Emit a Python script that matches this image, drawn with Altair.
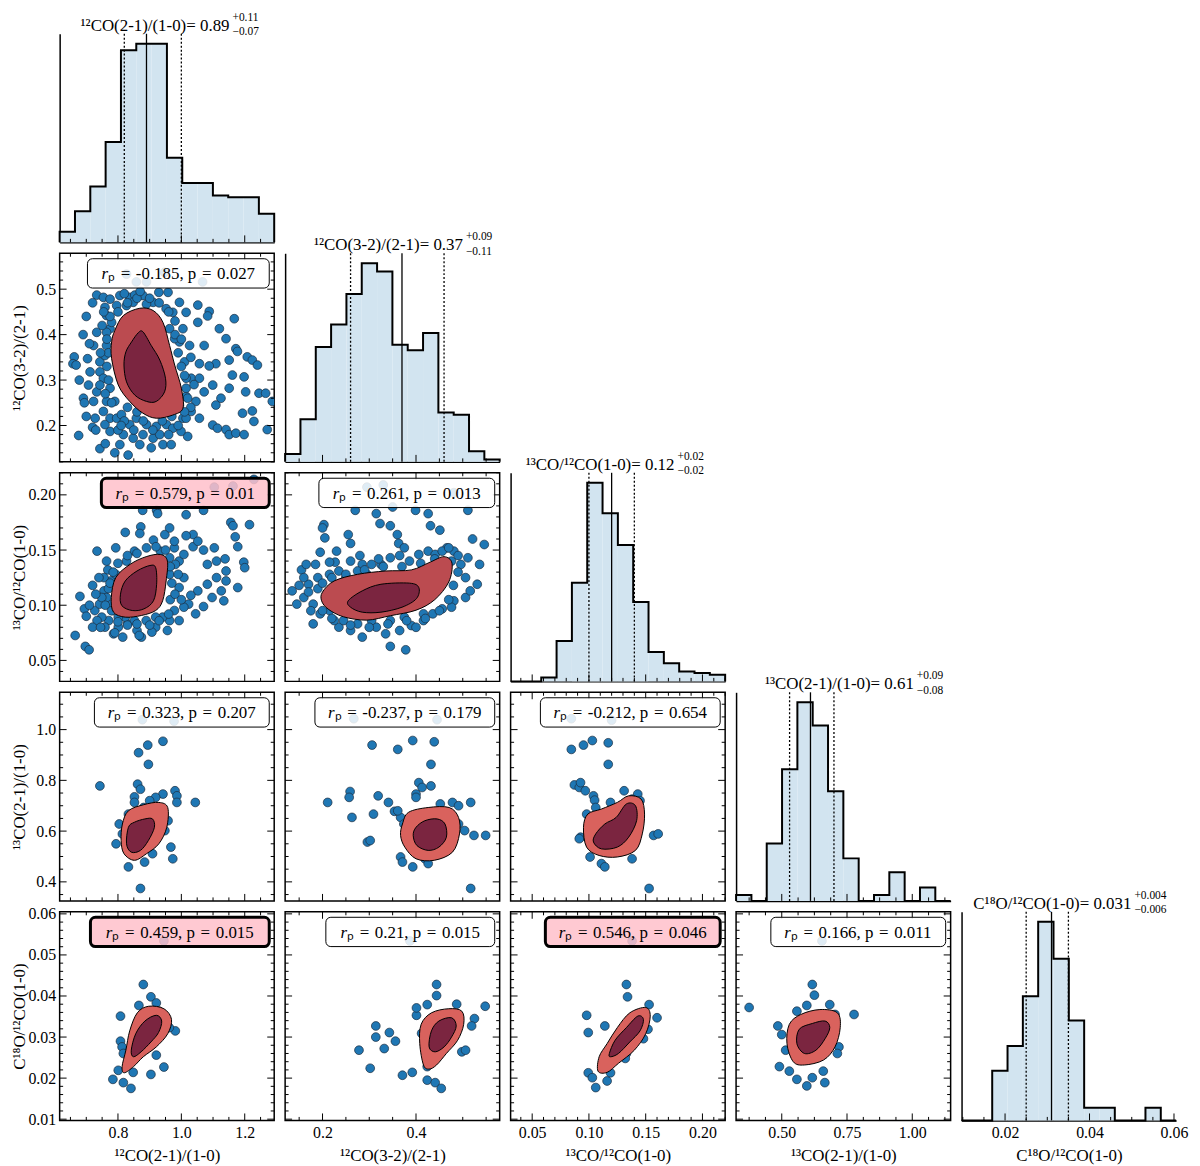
import altair as alt
import numpy as np
import pandas as pd

FONT = "Liberation Serif"
W, H = 216, 210
GAP = 11

# ---------------- data ----------------
VAR_LABELS = ["¹²CO(2-1)/(1-0)", "¹²CO(3-2)/(2-1)", "¹³CO/¹²CO(1-0)", "¹³CO(2-1)/(1-0)", "C¹⁸O/¹²CO(1-0)"]
DOMAINS = [[0.616, 1.293], [0.12, 0.579], [0.031, 0.22], [0.325, 1.147], [0.0097, 0.0605]]

X_MAJOR = [[0.8, 1.0, 1.2], [0.2, 0.4], [0.05, 0.10, 0.15, 0.20], [0.50, 0.75, 1.00], [0.02, 0.04, 0.06]]
X_MINOR_STEP = [0.05, 0.05, 0.01, 0.0625, 0.005]
Y_MAJOR = [[], [0.2, 0.3, 0.4, 0.5], [0.05, 0.10, 0.15, 0.20], [0.4, 0.6, 0.8, 1.0], [0.01, 0.02, 0.03, 0.04, 0.05, 0.06]]
Y_MINOR_STEP = [0.05, 0.02, 0.01, 0.05, 0.002]
X_FMT = [".1f", ".1f", ".2f", ".2f", ".2f"]
Y_FMT = [".1f", ".1f", ".2f", ".1f", ".2f"]

HIST_A = [32, 94, 169, 304, 582, 602, 602, 256, 180, 180, 142, 137, 137, 87]
HIST_B = [24, 129, 347, 415, 507, 600, 575, 354, 337, 389, 149, 142, 32, 7]
HIST_C = [0, 0, 12, 122, 298, 600, 508, 412, 240, 89, 55, 30, 25, 20]
HIST_D = [18, 0, 173, 396, 598, 528, 330, 128, 0, 18, 86, 0, 40, 0]
HIST_E = [0, 0, 150, 225, 375, 600, 488, 302, 38, 38, 0, 0, 38, 0]
HISTS = [HIST_A, HIST_B, HIST_C, HIST_D, HIST_E]

Q16 = [0.82, 0.26, 0.10, 0.53, 0.025]
Q50 = [0.89, 0.37, 0.12, 0.61, 0.031]
Q84 = [1.00, 0.46, 0.14, 0.70, 0.035]
TITLE_MAIN = ["0.89", "0.37", "0.12", "0.61", "0.031"]
TITLE_PLUS = ["+0.11", "+0.09", "+0.02", "+0.09", "+0.004"]
TITLE_MINUS = ["−0.07", "−0.11", "−0.02", "−0.08", "−0.006"]

R_P = {(1, 0): "-0.185", (2, 0): "0.579", (2, 1): "0.261", (3, 0): "0.323", (3, 1): "-0.237",
       (3, 2): "-0.212", (4, 0): "0.459", (4, 1): "0.21", (4, 2): "0.546", (4, 3): "0.166"}
P_VAL = {(1, 0): "0.027", (2, 0): "0.01", (2, 1): "0.013", (3, 0): "0.207", (3, 1): "0.179",
         (3, 2): "0.654", (4, 0): "0.015", (4, 1): "0.015", (4, 2): "0.046", (4, 3): "0.011"}
HIGHLIGHT = [(2, 0), (4, 0), (4, 2)]

PTS_1_0 = [(0.676,0.178),(0.662,0.351),(0.658,0.336),(0.668,0.333),(0.678,0.300),(0.704,0.347),(0.707,0.289),
 (0.691,0.260),(0.694,0.250),(0.728,0.216),(0.720,0.196),(0.743,0.149),(0.733,0.487),(0.754,0.482),(0.743,0.340),
 (0.743,0.318),(0.733,0.274),(0.723,0.253),(0.764,0.442),(0.775,0.413),(0.764,0.376),(0.759,0.354),(0.764,0.253),
 (0.775,0.216),(0.775,0.187),(0.796,0.216),(0.806,0.158),(0.832,0.135),(0.817,0.180),(0.806,0.486),(0.837,0.482),
 (0.853,0.487),(0.879,0.486),(0.929,0.493),(0.958,0.493),(0.796,0.464),(0.775,0.478),(0.879,0.180),(0.911,0.172),
 (0.942,0.158),(0.968,0.158),(1.020,0.176),(1.005,0.216),(1.057,0.216),(1.099,0.201),(1.114,0.194),(1.141,0.191),
 (1.151,0.180),(1.172,0.183),(1.198,0.180),(1.271,0.191),(1.229,0.209),(1.224,0.232),(1.193,0.227),(1.245,0.271),
 (1.266,0.271),(1.287,0.253),(1.052,0.465),(1.088,0.451),(1.083,0.441),(1.052,0.427),(1.167,0.435),(1.141,0.391),
 (1.172,0.369),(1.177,0.363),(1.208,0.351),(1.224,0.344),(1.109,0.336),(1.088,0.331),(1.151,0.344),(1.005,0.413),
 (1.026,0.376),(1.010,0.340),(1.031,0.304),(1.057,0.304),(1.072,0.274),(1.099,0.289),(1.125,0.260),(1.151,0.282),
 (1.109,0.245),(1.046,0.253),(1.015,0.264),(1.031,0.231),(0.994,0.471),(0.973,0.449),(1.015,0.449),(0.994,0.384),
 (1.161,0.311),(1.198,0.307),(1.240,0.333),(1.203,0.274),(1.072,0.376),(1.120,0.413),(1.015,0.304),(1.057,0.336),
 (0.780,0.427),(0.764,0.405),(0.754,0.304),(0.775,0.282),(0.790,0.253),(0.811,0.224),(0.837,0.202),(0.858,0.216),
 (0.890,0.202),(0.921,0.198),(0.953,0.202),(0.973,0.194),(0.848,0.172),(0.932,0.180),(0.999,0.187),(1.015,0.216),
 (0.994,0.245),(1.015,0.282),(0.979,0.391),(0.963,0.413),(0.952,0.457),(0.911,0.471),(0.848,0.471),(0.827,0.464),
 (0.890,0.467),(0.759,0.460),(0.733,0.405),(0.723,0.376),(0.743,0.289),(0.712,0.318),(0.754,0.231),(0.759,0.202),
 (0.869,0.158),(0.905,0.151),
 (0.770,0.300),(0.765,0.330),(0.770,0.360),(0.765,0.390),(0.775,0.440),(0.760,0.270),(0.780,0.250),(0.745,0.360),
 (0.750,0.420),(0.755,0.450),(0.800,0.450),(0.830,0.470),(0.860,0.480),(0.900,0.480),(0.930,0.470),(0.960,0.450),
 (0.980,0.430),(0.820,0.490),(0.870,0.495),(0.990,0.360),(1.000,0.330),(1.010,0.310),(1.020,0.260),(1.030,0.240),
 (0.980,0.400),(1.000,0.390),(1.030,0.350),(1.040,0.290),(0.820,0.210),(0.850,0.190),(0.880,0.210),(0.910,0.190),
 (0.940,0.210),(0.960,0.180),(0.990,0.200),(0.800,0.190),(0.860,0.230),(0.830,0.240),(1.010,0.230),(0.970,0.220),
 (0.700,0.440),(0.720,0.470),(0.690,0.400),(0.710,0.380),(0.700,0.220),(0.730,0.190),(0.760,0.160),(0.790,0.140),
 (0.810,0.200),
 (0.827,0.533),(0.858,0.516),(0.890,0.516),(0.947,0.537),(1.067,0.516)]

PTS_2_0 = [(0.665,0.0726),(0.697,0.0627),(0.709,0.0596),(0.680,0.108),(0.694,0.0967),(0.734,0.149),(0.764,0.140),
 (0.768,0.132),(0.827,0.140),(0.823,0.166),(0.872,0.171),(0.878,0.186),(0.922,0.186),(0.925,0.183),(0.869,0.165),
 (0.912,0.159),(1.015,0.182),(1.070,0.186),(1.037,0.164),(1.070,0.150),(1.037,0.153),(1.082,0.137),(1.111,0.140),
 (1.138,0.142),(1.156,0.175),(1.163,0.172),(1.215,0.173),(1.170,0.162),(1.178,0.153),(1.197,0.139),(1.141,0.131),
 (1.200,0.134),(0.978,0.152),(0.993,0.140),(0.963,0.128),(1.008,0.125),(1.052,0.113),(1.030,0.109),(1.070,0.0988),
 (1.045,0.0922),(0.993,0.0861),(0.963,0.0861),(0.956,0.0771),(0.919,0.0801),(0.874,0.0711),(0.860,0.0771),
 (0.830,0.0831),(0.801,0.0801),(0.771,0.0861),(0.749,0.0892),(0.727,0.0952),(0.742,0.101),(0.756,0.113),
 (0.778,0.122),(0.756,0.125),(0.793,0.128),(0.963,0.143),(0.934,0.149),(0.948,0.134),(0.993,0.116),(1.023,0.101),
 (1.008,0.0982),(0.978,0.0952),(0.941,0.0892),(0.919,0.0892),(0.889,0.0861),(0.852,0.0861),(0.823,0.0892),
 (0.786,0.0952),(0.771,0.101),(0.801,0.0892),(0.764,0.107),(0.749,0.107),(1.082,0.119),(1.111,0.125),(1.141,0.122),
 (1.126,0.113),(1.178,0.116),(1.134,0.104),(1.097,0.107),(1.104,0.152),(1.052,0.158),(1.015,0.163),(0.978,0.158),
 (0.948,0.164),(0.963,0.170),(0.852,0.149),(0.793,0.152),(0.808,0.119),(1.008,0.146),(0.981,0.137),(0.734,0.0861),
 (0.720,0.0801),(0.759,0.0801),(0.786,0.0741),(0.815,0.0711),(0.867,0.0726),(0.907,0.0756),
 (0.770,0.115),(0.760,0.100),(0.780,0.095),(0.800,0.085),(0.830,0.082),(0.860,0.083),(0.900,0.082),(0.930,0.086),
 (0.960,0.092),(0.965,0.105),(0.970,0.120),(0.965,0.135),(0.950,0.150),(0.920,0.153),(0.890,0.152),(0.860,0.147),
 (0.830,0.145),(0.800,0.138),(0.785,0.130),(0.775,0.120),(0.980,0.110),(1.000,0.105),(0.990,0.128),(0.700,0.090),
 (0.710,0.100),(0.730,0.110),(0.720,0.118),(0.740,0.125),(0.745,0.080),(0.790,0.075),
 (1.104,0.207),(1.163,0.208),(1.229,0.214)]

PTS_2_1 = [(0.135,0.113),(0.155,0.132),(0.185,0.137),(0.195,0.148),(0.203,0.173),(0.200,0.170),(0.205,0.161),
 (0.230,0.149),(0.227,0.139),(0.255,0.164),(0.260,0.156),(0.270,0.186),(0.280,0.145),(0.285,0.137),(0.295,0.128),
 (0.315,0.183),(0.323,0.174),(0.345,0.172),(0.350,0.189),(0.360,0.164),(0.363,0.156),(0.375,0.152),(0.399,0.186),
 (0.426,0.183),(0.431,0.172),(0.451,0.168),(0.466,0.152),(0.481,0.149),(0.511,0.186),(0.521,0.160),(0.546,0.155),
 (0.531,0.119),(0.506,0.125),(0.496,0.137),(0.481,0.104),(0.456,0.0967),(0.436,0.0922),(0.416,0.0861),(0.390,0.0816),
 (0.345,0.0627),(0.378,0.0596),(0.365,0.0771),(0.335,0.0741),(0.315,0.0801),(0.285,0.0711),(0.260,0.0771),
 (0.235,0.0801),(0.225,0.0861),(0.180,0.0831),(0.195,0.0922),(0.180,0.101),(0.160,0.107),(0.145,0.101),(0.170,0.119),
 (0.190,0.125),(0.215,0.128),(0.235,0.131),(0.250,0.125),(0.275,0.131),(0.305,0.137),(0.325,0.137),(0.345,0.143),
 (0.365,0.145),(0.386,0.140),(0.406,0.146),(0.426,0.149),(0.441,0.146),(0.456,0.149),(0.215,0.139),(0.165,0.137),
 (0.210,0.104),(0.215,0.0952),(0.245,0.0861),(0.275,0.0831),(0.305,0.0861),(0.345,0.0861),(0.375,0.0892),
 (0.416,0.0922),(0.476,0.0982),(0.506,0.107),(0.516,0.113),(0.511,0.143),(0.476,0.140),(0.536,0.137),
 (0.190,0.115),(0.200,0.095),(0.220,0.088),(0.260,0.082),(0.300,0.080),(0.340,0.083),(0.380,0.086),(0.420,0.088),
 (0.450,0.095),(0.470,0.105),(0.480,0.118),(0.490,0.130),(0.490,0.145),(0.470,0.152),(0.440,0.142),(0.410,0.138),
 (0.370,0.135),(0.330,0.135),(0.290,0.132),(0.250,0.128),(0.220,0.125),(0.200,0.120),(0.170,0.112),(0.160,0.125),
 (0.230,0.115),(0.150,0.118),(0.175,0.095),(0.260,0.140),(0.320,0.142),(0.400,0.080),
 (0.330,0.209),(0.481,0.202),(0.295,0.207)]

PTS_3_0 = [(0.743,0.778),(0.865,0.909),(0.894,0.939),(0.942,0.954),(0.896,0.863),(0.862,0.785),(0.871,0.765),
 (0.852,0.735),(0.942,0.746),(0.919,0.733),(0.980,0.759),(0.986,0.739),(0.986,0.713),(1.044,0.713),(0.929,0.687),
 (0.958,0.641),(0.948,0.602),(0.967,0.537),(0.973,0.491),(0.909,0.511),(0.884,0.478),(0.833,0.459),(0.871,0.374),
 (0.794,0.550),(0.804,0.628),(0.814,0.589),(0.833,0.667),(0.881,0.693),(0.900,0.720),(0.852,0.713),
 (0.877,1.039),(0.977,1.033)]

PTS_3_1 = [(0.211,0.713),(0.259,0.756),(0.257,0.733),(0.263,0.654),(0.296,0.557),(0.302,0.563),(0.309,0.667),
 (0.306,0.939),(0.361,0.922),(0.393,0.957),(0.439,0.952),(0.319,0.739),(0.341,0.713),(0.354,0.678),(0.367,0.654),
 (0.374,0.628),(0.406,0.791),(0.413,0.772),(0.400,0.746),(0.432,0.778),(0.432,0.863),(0.452,0.707),(0.478,0.713),
 (0.491,0.700),(0.517,0.713),(0.400,0.733),(0.361,0.680),(0.367,0.498),(0.371,0.478),(0.393,0.459),(0.419,0.491),
 (0.426,0.472),(0.504,0.602),(0.524,0.583),(0.549,0.583),(0.517,0.374),(0.491,0.628),
 (0.267,1.043),(0.445,1.039)]

PTS_3_2 = [(0.0845,0.922),(0.0952,0.939),(0.103,0.957),(0.117,0.948),(0.117,0.863),(0.0872,0.782),(0.0915,0.772),
 (0.0926,0.791),(0.0968,0.759),(0.104,0.739),(0.105,0.722),(0.131,0.759),(0.143,0.746),(0.145,0.720),(0.0926,0.576),
 (0.0915,0.570),(0.101,0.498),(0.111,0.472),(0.114,0.459),(0.138,0.491),(0.157,0.583),(0.161,0.589),(0.153,0.374),
 (0.0980,0.667),(0.106,0.693),(0.119,0.713),(0.138,0.726),
 (0.0845,1.043),(0.120,1.037)]

PTS_4_0 = [(0.880,0.0428),(0.904,0.0398),(0.866,0.0377),(0.921,0.0383),(0.929,0.0363),(0.808,0.0351),(0.808,0.0290),
 (0.813,0.0276),(0.817,0.0260),(0.832,0.0235),(0.801,0.0219),(0.784,0.0197),(0.817,0.0189),(0.841,0.0175),
 (0.848,0.0214),(0.904,0.0209),(0.945,0.0227),(0.981,0.0315),(0.962,0.0323),(0.921,0.0256),(0.909,0.0339),
 (0.945,0.0534)]

PTS_4_1 = [(0.278,0.0268),(0.302,0.0224),(0.314,0.0327),(0.314,0.0300),(0.343,0.0311),(0.356,0.0290),(0.332,0.0272),
 (0.371,0.0207),(0.392,0.0214),(0.401,0.0353),(0.412,0.0309),(0.444,0.0428),(0.444,0.0401),(0.487,0.0380),
 (0.525,0.0345),(0.519,0.0327),(0.548,0.0375),(0.498,0.0264),(0.506,0.0268),(0.424,0.0195),(0.441,0.0189),
 (0.454,0.0175),(0.424,0.0228),(0.401,0.0371),(0.424,0.0379),
 (0.387,0.0534)]

PTS_4_2 = [(0.098,0.0353),(0.0994,0.0311),(0.0994,0.0213),(0.103,0.0201),(0.106,0.0177),(0.116,0.0193),(0.119,0.0213),
 (0.114,0.0327),(0.133,0.0428),(0.134,0.0398),(0.153,0.0379),(0.152,0.0319),(0.160,0.0347),(0.148,0.0296),
 (0.133,0.0260),(0.132,0.0248),(0.119,0.0268),
 (0.138,0.0534)]

PTS_4_3 = [(0.375,0.0372),(0.485,0.0327),(0.500,0.0306),(0.515,0.0268),(0.491,0.0228),(0.529,0.0217),(0.558,0.0197),
 (0.596,0.0181),(0.617,0.0201),(0.659,0.0217),(0.665,0.0189),(0.596,0.0377),(0.617,0.0428),(0.625,0.0402),
 (0.684,0.0379),(0.704,0.0355),(0.777,0.0355),(0.719,0.0276),(0.713,0.0260),(0.558,0.0363),
 (0.654,0.0534)]

PTS = {(1, 0): PTS_1_0, (2, 0): PTS_2_0, (2, 1): PTS_2_1, (3, 0): PTS_3_0, (3, 1): PTS_3_1,
       (3, 2): PTS_3_2, (4, 0): PTS_4_0, (4, 1): PTS_4_1, (4, 2): PTS_4_2, (4, 3): PTS_4_3}

# density contours (outer and inner levels), vertices
CONT_1_0 = ([(0.790,0.409),(0.817,0.442),(0.869,0.458),(0.911,0.453),(0.942,0.427),(0.963,0.376),(0.979,0.333),
             (1.000,0.282),(1.005,0.238),(0.973,0.223),(0.921,0.216),(0.879,0.227),(0.837,0.253),(0.801,0.289),
             (0.780,0.347),(0.780,0.384)],
            [(0.825,0.362),(0.843,0.384),(0.864,0.404),(0.879,0.406),(0.905,0.376),(0.932,0.344),(0.950,0.304),
             (0.947,0.274),(0.921,0.253),(0.890,0.253),(0.853,0.267),(0.827,0.296),(0.819,0.333)])
CONT_2_0 = ([(0.779,0.107),(0.793,0.125),(0.838,0.137),(0.889,0.144),(0.934,0.146),(0.956,0.140),(0.952,0.122),
             (0.941,0.104),(0.919,0.0952),(0.874,0.0907),(0.823,0.0892),(0.786,0.0937)],
            [(0.808,0.110),(0.823,0.122),(0.860,0.131),(0.901,0.136),(0.919,0.134),(0.922,0.119),(0.912,0.104),
             (0.882,0.0967),(0.845,0.0952),(0.812,0.0997)])
CONT_2_1 = ([(0.200,0.112),(0.225,0.122),(0.275,0.128),(0.335,0.131),(0.390,0.132),(0.430,0.139),(0.460,0.144),
             (0.477,0.138),(0.470,0.121),(0.440,0.105),(0.400,0.0955),(0.345,0.0905),(0.295,0.0865),(0.245,0.0895),
             (0.212,0.0965),(0.198,0.104)],
            [(0.255,0.104),(0.285,0.113),(0.325,0.119),(0.386,0.120),(0.406,0.116),(0.401,0.106),(0.370,0.0982),
             (0.325,0.0937),(0.285,0.0937),(0.260,0.0982)])
CONT_3_0 = ([(0.814,0.628),(0.833,0.680),(0.881,0.704),(0.929,0.713),(0.957,0.693),(0.954,0.615),(0.929,0.550),
             (0.890,0.511),(0.852,0.485),(0.819,0.511),(0.810,0.563)],
            [(0.833,0.615),(0.852,0.635),(0.885,0.648),(0.909,0.648),(0.915,0.615),(0.896,0.563),(0.871,0.524),
             (0.842,0.517),(0.827,0.550)])
CONT_3_1 = ([(0.371,0.628),(0.384,0.674),(0.426,0.693),(0.471,0.693),(0.491,0.654),(0.493,0.589),(0.478,0.517),
             (0.439,0.485),(0.400,0.491),(0.376,0.537),(0.367,0.583)],
            [(0.400,0.615),(0.419,0.641),(0.445,0.648),(0.462,0.628),(0.465,0.576),(0.449,0.537),(0.426,0.524),
             (0.402,0.543),(0.394,0.583)])
CONT_3_2 = ([(0.0952,0.615),(0.0990,0.667),(0.111,0.687),(0.125,0.713),(0.135,0.739),(0.146,0.726),(0.149,0.667),
             (0.147,0.589),(0.141,0.524),(0.125,0.498),(0.109,0.504),(0.0979,0.537)],
            [(0.106,0.589),(0.114,0.628),(0.124,0.654),(0.133,0.707),(0.141,0.700),(0.142,0.641),(0.135,0.576),
             (0.125,0.537),(0.111,0.530),(0.104,0.557)])
CONT_4_0 = ([(0.813,0.0228),(0.825,0.0268),(0.837,0.0315),(0.861,0.0359),(0.897,0.0375),(0.945,0.0369),
             (0.969,0.0343),(0.957,0.0308),(0.921,0.0276),(0.880,0.0252),(0.849,0.0228),(0.820,0.0213)],
            [(0.842,0.0268),(0.856,0.0308),(0.885,0.0339),(0.921,0.0353),(0.938,0.0339),(0.928,0.0311),
             (0.904,0.0288),(0.873,0.0264),(0.849,0.0252)])
CONT_4_1 = ([(0.416,0.0232),(0.408,0.0284),(0.411,0.0331),(0.433,0.0359),(0.470,0.0369),(0.498,0.0363),
             (0.502,0.0331),(0.489,0.0292),(0.465,0.0260),(0.444,0.0232),(0.428,0.0222)],
            [(0.428,0.0276),(0.433,0.0315),(0.449,0.0339),(0.476,0.0347),(0.486,0.0327),(0.476,0.0300),
             (0.460,0.0276),(0.441,0.0264)])
CONT_4_2 = ([(0.108,0.0217),(0.109,0.0252),(0.116,0.0284),(0.125,0.0323),(0.136,0.0359),(0.150,0.0372),
             (0.154,0.0351),(0.150,0.0308),(0.140,0.0268),(0.126,0.0236),(0.116,0.0214)],
            [(0.118,0.0260),(0.123,0.0292),(0.133,0.0323),(0.143,0.0351),(0.148,0.0343),(0.145,0.0315),
             (0.136,0.0288),(0.126,0.0260),(0.119,0.0252)])
CONT_4_3 = ([(0.520,0.0284),(0.529,0.0331),(0.573,0.0355),(0.646,0.0367),(0.713,0.0359),(0.724,0.0323),
             (0.704,0.0276),(0.660,0.0244),(0.587,0.0232),(0.544,0.0240)],
            [(0.558,0.0284),(0.567,0.0319),(0.617,0.0333),(0.666,0.0339),(0.684,0.0323),(0.666,0.0296),
             (0.631,0.0268),(0.587,0.0260)])
CONTS = {(1, 0): CONT_1_0, (2, 0): CONT_2_0, (2, 1): CONT_2_1, (3, 0): CONT_3_0, (3, 1): CONT_3_1,
         (3, 2): CONT_3_2, (4, 0): CONT_4_0, (4, 1): CONT_4_1, (4, 2): CONT_4_2, (4, 3): CONT_4_3}

# ---------------- styling / layout ----------------
PT_COLOR = "#1f77b4"
HFILL = "#d2e4f0"
OUTER_FILL = {1: "#bb4b50", 2: "#bb4b50", 3: "#d9625d", 4: "#d9625d"}
INNER_FILL = "#7b2540"
TITLE_END = [171, 179, 165, 179, 171]
BOX_W = {(1, 0): 183, (2, 0): 169, (2, 1): 177, (3, 0): 176, (3, 1): 181, (3, 2): 181,
         (4, 0): 180, (4, 1): 170, (4, 2): 176, (4, 3): 176}
DUMMY = pd.DataFrame({"a": [0]})
SP = "\u2004"
CW = {".": 0.25, ",": 0.25, " ": 0.25, SP: 0.333, "=": 0.564, "-": 0.333, "p": 0.5, "ₚ": 0.42, "r": 0.389}


def text_w(s, fs):
    return sum(CW.get(ch, 0.5) for ch in s) * fs


def sc(i):
    return alt.Scale(domain=DOMAINS[i], nice=False, zero=False)


def minor_ticks(lo, hi, step, majors):
    start = np.ceil(lo / step - 1e-9) * step
    vals = np.arange(start, hi + 1e-12, step)
    return [round(float(v), 6) for v in vals if all(abs(v - m) > step * 0.2 for m in majors)]


AXIS_TXT = dict(labelFont=FONT, labelFontSize=16, labelColor="black", titleFont=FONT, titleFontSize=17,
                titleFontWeight="normal", titleColor="black", grid=False, ticks=False)


def x_axis(c, labels, spine):
    kw = dict(AXIS_TXT)
    kw.update(domain=spine)
    if spine:
        kw.update(domainColor="black", domainWidth=1.5)
    if labels:
        kw.update(values=X_MAJOR[c], format=X_FMT[c], labels=True, labelPadding=4, labelFlush=False,
                  title=VAR_LABELS[c], titleY=40, titleBaseline="alphabetic")
    else:
        kw.update(labels=False, title=None)
    return alt.Axis(**kw)


def y_axis_scatter(r):
    kw = dict(AXIS_TXT)
    kw.update(domain=False, values=Y_MAJOR[r], format=Y_FMT[r], labels=True, labelPadding=4, labelFlush=False,
              title=VAR_LABELS[r], titleX=-35, titleY=H / 2, titleAngle=270, titleAlign="center",
              titleBaseline="alphabetic")
    return alt.Axis(**kw)


def tick_rules(vals, chan, enc_fn, side, length):
    df = pd.DataFrame({"v": vals})
    if chan == "x":
        enc = dict(x=enc_fn("v"))
        if side == "bottom":
            enc.update(y=alt.value(H), y2=alt.value(H - length))
        else:
            enc.update(y=alt.value(0), y2=alt.value(length))
    else:
        enc = dict(y=enc_fn("v"))
        if side == "left":
            enc.update(x=alt.value(0), x2=alt.value(length))
        else:
            enc.update(x=alt.value(W), x2=alt.value(W - length))
    return alt.Chart(df).mark_rule(color="black", strokeWidth=1).encode(**enc)


def scatter_panel(r, c):
    xa = x_axis(c, True, False) if r == 4 else None
    ya = y_axis_scatter(r) if c == 0 else None

    def X(f):
        return alt.X(f"{f}:Q", scale=sc(c), axis=xa)

    def Y(f):
        return alt.Y(f"{f}:Q", scale=sc(r), axis=ya)

    layers = []
    pts = pd.DataFrame(PTS[(r, c)], columns=["x", "y"])
    layers.append(alt.Chart(pts).mark_circle(size=78, color=PT_COLOR, opacity=1, stroke="#1b2b3d",
                                             strokeWidth=0.7, clip=True).encode(x=X("x"), y=Y("y")))
    outer, inner = CONTS[(r, c)]
    for poly, fill in ((outer, OUTER_FILL[r]), (inner, INNER_FILL)):
        dfp = pd.DataFrame(poly, columns=["x", "y"])
        dfp["i"] = range(len(dfp))
        layers.append(alt.Chart(dfp).mark_line(interpolate="cardinal-closed", fill=fill, fillOpacity=1,
                                               stroke="black", strokeWidth=1, clip=True)
                      .encode(x=X("x"), y=Y("y"), order="i:Q"))
    xmaj = X_MAJOR[c]
    xmin = minor_ticks(DOMAINS[c][0], DOMAINS[c][1], X_MINOR_STEP[c], xmaj)
    ymaj = Y_MAJOR[r]
    ymin = minor_ticks(DOMAINS[r][0], DOMAINS[r][1], Y_MINOR_STEP[r], ymaj)
    for side in ("bottom", "top"):
        layers.append(tick_rules(xmaj, "x", X, side, 7))
        layers.append(tick_rules(xmin, "x", X, side, 3.5))
    for side in ("left", "right"):
        layers.append(tick_rules(ymaj, "y", Y, side, 7))
        layers.append(tick_rules(ymin, "y", Y, side, 3.5))

    hl = (r, c) in HIGHLIGHT
    bw = BOX_W[(r, c)]
    layers.append(alt.Chart(DUMMY).mark_rect(cornerRadius=5, fill="#ffc0cb" if hl else "white", fillOpacity=0.86,
                                             stroke="black", strokeWidth=3 if hl else 1)
                  .encode(x=alt.value(W - 5 - bw), x2=alt.value(W - 5), y=alt.value(5.5), y2=alt.value(35)))
    fs = 17
    rest = "ₚ" + SP + "=" + SP + R_P[(r, c)] + ", p" + SP + "=" + SP + P_VAL[(r, c)]
    total = text_w("r", fs) + text_w(rest, fs)
    x0 = W - 5 - bw / 2 - total / 2
    layers.append(alt.Chart(DUMMY).mark_text(text="r", font=FONT, fontSize=fs, fontStyle="italic", align="left",
                                             baseline="alphabetic", color="black")
                  .encode(x=alt.value(x0), y=alt.value(26)))
    layers.append(alt.Chart(DUMMY).mark_text(text=rest, font=FONT, fontSize=fs, align="left",
                                             baseline="alphabetic", color="black")
                  .encode(x=alt.value(x0 + text_w("r", fs)), y=alt.value(26)))
    return alt.layer(*layers).properties(width=W, height=H)


def hist_panel(i):
    xa = x_axis(i, i == 4, True)
    cnts = HISTS[i]
    ymax = max(cnts) * 1.05
    ya = alt.Axis(domain=True, domainColor="black", domainWidth=1.5, labels=False, ticks=False, grid=False,
                  title=None)

    def X(f):
        return alt.X(f"{f}:Q", scale=sc(i), axis=xa)

    def Y(f):
        return alt.Y(f"{f}:Q", scale=alt.Scale(domain=[0, ymax], nice=False, zero=True), axis=ya)

    lo, hi = DOMAINS[i]
    edges = np.linspace(lo, hi, len(cnts) + 1)
    bars = pd.DataFrame({"x0": edges[:-1], "x1": edges[1:], "cnt": cnts, "zero": 0})
    ox, oy = [edges[0]], [0]
    for k, cval in enumerate(cnts):
        ox += [edges[k], edges[k + 1]]
        oy += [cval, cval]
    ox.append(edges[-1])
    oy.append(0)
    outline = pd.DataFrame({"x": ox, "cnt": oy, "i": range(len(ox))})

    layers = [
        alt.Chart(bars).mark_rect(color=HFILL, strokeWidth=0).encode(x=X("x0"), x2="x1", y=Y("cnt"), y2="zero"),
        alt.Chart(outline).mark_line(color="black", strokeWidth=2, strokeJoin="miter")
        .encode(x=X("x"), y=Y("cnt"), order="i:Q"),
        alt.Chart(pd.DataFrame({"q": [Q16[i], Q84[i]]})).mark_rule(color="black", strokeWidth=1.3, strokeDash=[2, 2])
        .encode(x=X("q"), y=alt.value(0), y2=alt.value(H)),
        alt.Chart(pd.DataFrame({"q": [Q50[i]]})).mark_rule(color="black", strokeWidth=1.3)
        .encode(x=X("q"), y=alt.value(0), y2=alt.value(H)),
    ]
    xmaj = X_MAJOR[i]
    xmin = minor_ticks(lo, hi, X_MINOR_STEP[i], xmaj)
    layers.append(tick_rules(xmaj, "x", X, "bottom", 7))
    layers.append(tick_rules(xmin, "x", X, "bottom", 3.5))
    te = TITLE_END[i]
    layers.append(alt.Chart(DUMMY).mark_text(text=VAR_LABELS[i] + "= " + TITLE_MAIN[i], font=FONT, fontSize=17,
                                             align="right", baseline="alphabetic", color="black")
                  .encode(x=alt.value(te), y=alt.value(-3)))
    layers.append(alt.Chart(DUMMY).mark_text(text=TITLE_PLUS[i], font=FONT, fontSize=11.5, align="left",
                                             baseline="alphabetic", color="black")
                  .encode(x=alt.value(te + 3), y=alt.value(-13)))
    layers.append(alt.Chart(DUMMY).mark_text(text=TITLE_MINUS[i], font=FONT, fontSize=11.5, align="left",
                                             baseline="alphabetic", color="black")
                  .encode(x=alt.value(te + 3), y=alt.value(1.5)))
    return alt.layer(*layers).properties(width=W, height=H, view=alt.ViewBackground(stroke=None))


def blank():
    return alt.Chart(DUMMY).mark_point(opacity=0).encode(
        x=alt.X("a:Q", axis=None), y=alt.Y("a:Q", axis=None)
    ).properties(width=W, height=H, view=alt.ViewBackground(stroke=None))


cells = []
for r in range(5):
    for c in range(5):
        if c < r:
            cells.append(scatter_panel(r, c))
        elif c == r:
            cells.append(hist_panel(r))
        else:
            cells.append(blank())

chart = alt.concat(*cells, columns=5, spacing=GAP, bounds="flush").properties(
    padding={"left": 2, "top": 0, "right": 4, "bottom": 2},
    background="white",
).configure_view(stroke="black", strokeWidth=1.5)

chart.save("out.html", embed_options={"renderer": "svg", "actions": False})
